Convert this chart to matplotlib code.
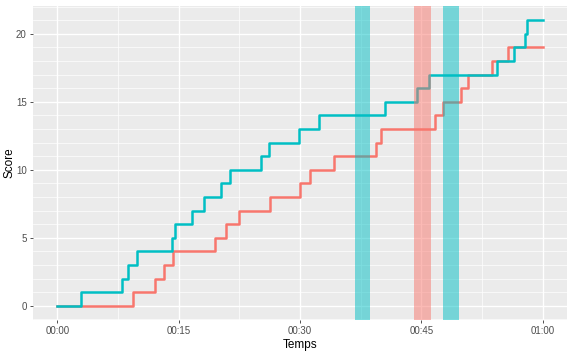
import matplotlib
matplotlib.use("Agg")
import matplotlib.pyplot as plt
from matplotlib.ticker import MultipleLocator, FixedLocator

plt.rcParams['font.family'] = ['Liberation Sans', 'DejaVu Sans']

# temps (minutes) des changements de score
t_rouge = [0, 9.3, 12.1, 13.2, 14.3, 19.5, 20.9, 22.4, 26.3, 30.0, 31.2, 34.2,
           39.4, 40.0, 46.7, 47.7, 49.9, 50.8, 53.7, 55.7, 60]
s_rouge = [0, 1, 2, 3, 4, 5, 6, 7, 8, 9, 10, 11, 12, 13, 14, 15, 16, 17, 18, 19, 19]

t_bleu = [0, 2.9, 8.0, 8.8, 9.8, 14.2, 14.6, 16.7, 18.1, 20.2, 21.4, 25.2, 26.2,
          29.9, 32.4, 40.5, 44.4, 46.0, 54.3, 56.4, 57.8, 58.0, 60]
s_bleu = [0, 1, 2, 3, 4, 5, 6, 7, 8, 9, 10, 11, 12, 13, 14, 15, 16, 17, 18, 19, 20, 21, 21]

# périodes surlignées (debut, fin, equipe)
bandes = [(36.8, 38.7, 'bleu'), (44.1, 46.2, 'rouge'), (47.7, 49.7, 'bleu')]

x_ticks = [0, 15, 30, 45, 60]
x_labels = ['00:00', '00:15', '00:30', '00:45', '01:00']

couleurs = {'rouge': '#F8766D', 'bleu': '#00BFC4'}

fig = plt.figure(figsize=(5.77, 3.54), dpi=100)
ax = fig.add_axes([0.0572, 0.096, 0.9255, 0.887])
ax.set_facecolor('#EBEBEB')

ax.step(t_rouge, s_rouge, where='post', color=couleurs['rouge'], lw=1.8, zorder=3)
ax.step(t_bleu, s_bleu, where='post', color=couleurs['bleu'], lw=1.8, zorder=4)

for d, f, eq in bandes:
    ax.axvspan(d, f, color=couleurs[eq], alpha=0.5, lw=0, zorder=5)

ax.set_xlim(-3, 63)
ax.set_ylim(-1.05, 22.05)
ax.xaxis.set_major_locator(FixedLocator(x_ticks))
ax.set_xticklabels(x_labels)
ax.xaxis.set_minor_locator(FixedLocator([7.5, 22.5, 37.5, 52.5]))
ax.yaxis.set_major_locator(MultipleLocator(5))
ax.yaxis.set_minor_locator(MultipleLocator(1))

ax.grid(which='major', color='white', lw=1.0, zorder=1)
ax.grid(which='minor', color='white', lw=0.5, zorder=1)
ax.set_axisbelow(True)
for s in ax.spines.values():
    s.set_visible(False)
ax.tick_params(which='major', length=2.5, width=0.6, color='#333333',
               labelsize=7, labelcolor='#4D4D4D', pad=2)
ax.tick_params(which='minor', length=0)

ax.set_xlabel('Temps', fontsize=8.5, labelpad=2)
ax.set_ylabel('Score', fontsize=8.5)
ax.yaxis.set_label_coords(-0.033, 0.5)

fig.savefig('out.png', dpi=100)
